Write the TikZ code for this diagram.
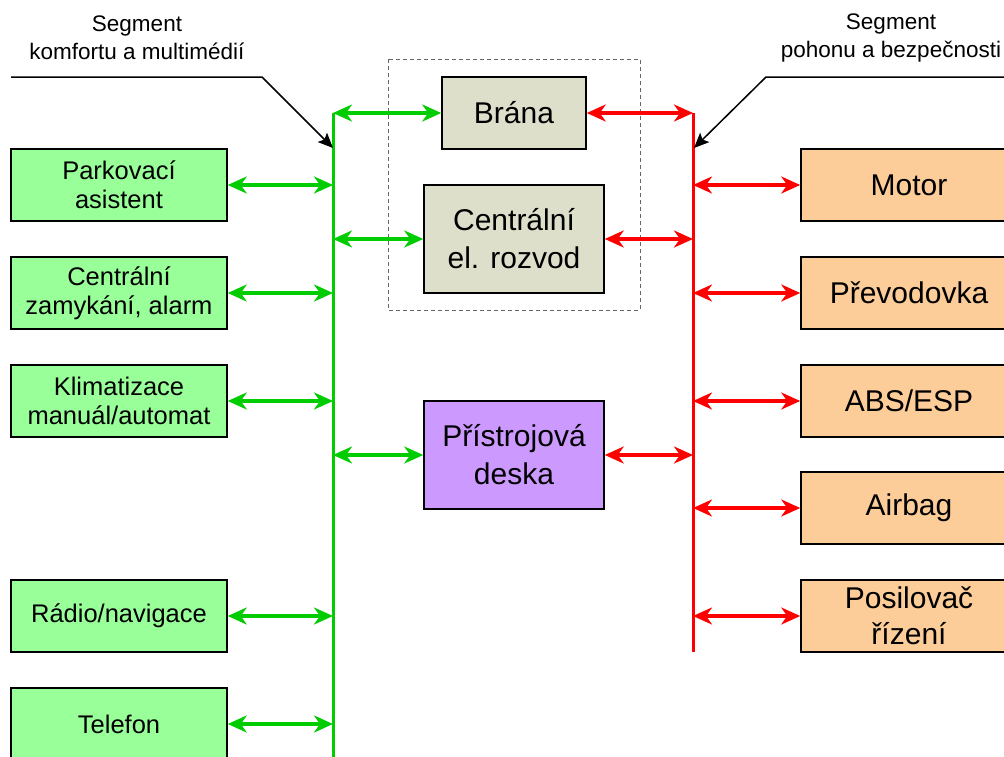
\documentclass[tikz,border=0pt]{standalone}
\usepackage{fontspec}
\setmainfont{Liberation Sans}
\usetikzlibrary{arrows.meta}

\definecolor{busgreen}{RGB}{0,204,0}
\definecolor{busred}{RGB}{255,0,0}
\definecolor{comfortfill}{RGB}{153,255,153}
\definecolor{drivefill}{RGB}{252,204,153}
\definecolor{gatefill}{RGB}{221,223,202}
\definecolor{dashfill}{RGB}{204,153,255}

\tikzset{
  unitbox/.style={draw=black, line width=1.5pt, inner sep=0pt, align=center},
  comfort/.style={unitbox, fill=comfortfill, minimum width=216pt, minimum height=72pt,
                  font=\fontsize{25.5}{29}\selectfont},
  drive/.style={unitbox, fill=drivefill, minimum width=216pt, minimum height=72pt,
                font=\fontsize{30}{36}\selectfont},
  gate/.style={unitbox, fill=gatefill, font=\fontsize{30}{38}\selectfont},
  segtext/.style={align=center, font=\fontsize{22.5}{28}\selectfont},
  bus/.style={line width=3pt},
  garrow/.style={busgreen, line width=3.5pt, {Stealth[length=19pt,width=17pt,inset=6pt]}-{Stealth[length=19pt,width=17pt,inset=6pt]}},
  rarrow/.style={busred, line width=3.5pt, {Stealth[length=19pt,width=17pt,inset=6pt]}-{Stealth[length=19pt,width=17pt,inset=6pt]}},
  pointer/.style={black, line width=1.5pt, -{Stealth[length=15pt,width=13pt,inset=3pt]}},
}

\begin{document}
\begin{tikzpicture}[x=1pt, y=-1pt]
  \useasboundingbox (0,0) rectangle (1004,756);
  \clip (0,0) rectangle (1004,756);

  % gateway group outline
  \draw[gray!80!black, line width=1pt, dash pattern=on 4pt off 3pt] (388,59) rectangle (640,310);

  % bus lines
  \coordinate (gtop) at (333,113);
  \coordinate (gbot) at (333,762);
  \coordinate (rtop) at (693,113);
  \coordinate (rbot) at (693,652);
  \draw[bus, busgreen] (gtop) -- (gbot);
  \draw[bus, busred] (rtop) -- (rbot);

  % comfort and multimedia units
  \node[comfort] (park)  at (119,185) {Parkovací\\asistent};
  \node[comfort] (lock)  at (119,293) {Centrální\\zamykání, alarm};
  \node[comfort] (clima) at (119,401) {Klimatizace\\manuál/automat};
  \node[comfort] (radio) at (119,616) {Rádio/navigace};
  \node[comfort] (phone) at (119,724) {Telefon};

  % powertrain and safety units
  \node[drive] (motor) at (909,185) {Motor};
  \node[drive] (gear)  at (909,293) {Převodovka};
  \node[drive] (abs)   at (909,401) {ABS/ESP};
  \node[drive] (bag)   at (909,508) {Airbag};
  \node[drive] (steer) at (909,616) {Posilovač\\řízení};

  % central units
  \node[gate, minimum width=144pt, minimum height=72pt] (gw) at (514,113) {Brána};
  \node[gate, minimum width=180pt, minimum height=108pt] (bcm) at (514,239) {Centrální\\el. rozvod};
  \node[gate, fill=dashfill, minimum width=180pt, minimum height=108pt] (dash) at (514,455) {Přístrojová\\deska};

  % links to the comfort bus
  \foreach \n in {park, lock, clima, radio, phone}
    \draw[garrow] (\n.east) -- (\n.east -| gtop);
  \foreach \n in {gw, bcm, dash}
    \draw[garrow] (\n.west -| gtop) -- (\n.west);

  % links to the powertrain bus
  \foreach \n in {motor, gear, abs, bag, steer}
    \draw[rarrow] (\n.west -| rtop) -- (\n.west);
  \foreach \n in {gw, bcm, dash}
    \draw[rarrow] (\n.east) -- (\n.east -| rtop);

  % segment labels
  \node[segtext] (segL) at (137,38) {Segment\\komfortu a multimédií};
  \node[segtext] (segR) at (891,38) {Segment\\pohonu a bezpečnosti};

  \coordinate (lstart) at (11,77);
  \coordinate (lbend)  at (262,77);
  \coordinate (ltip)   at (333,148);
  \draw[pointer] (lstart) -- (lbend) -- (ltip);

  \coordinate (rstart) at (1010,77);
  \coordinate (rbend)  at (766,77);
  \coordinate (rtip)   at (694,148);
  \draw[pointer] (rstart) -- (rbend) -- (rtip);
\end{tikzpicture}
\end{document}
